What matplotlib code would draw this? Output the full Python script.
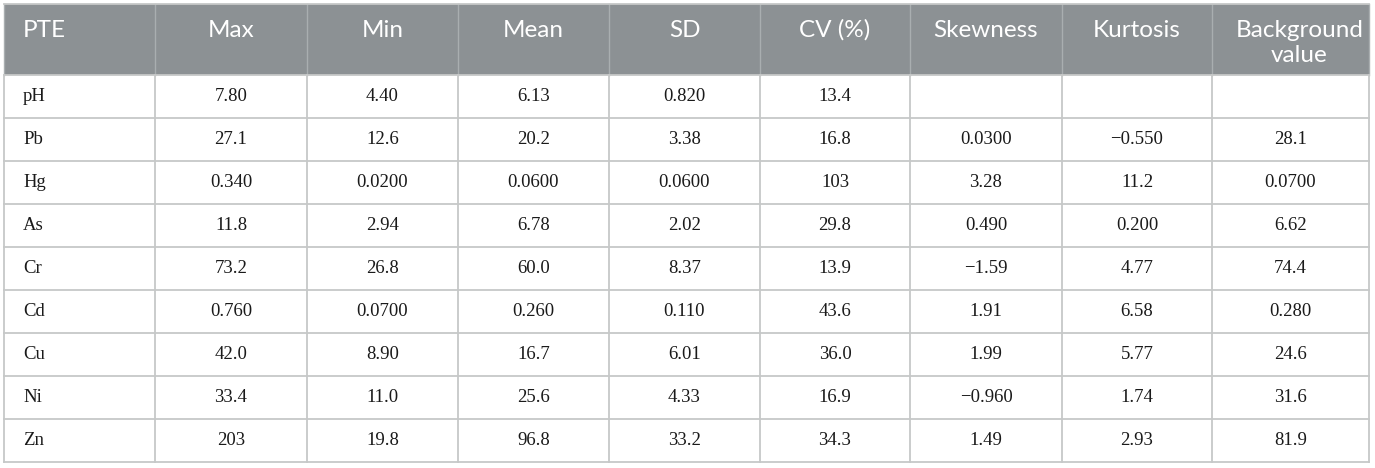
import numpy as np
import matplotlib
matplotlib.use("Agg")
import matplotlib.pyplot as plt
from matplotlib.patches import Rectangle

# table content
headers = ["PTE", "Max", "Min", "Mean", "SD", "CV (%)", "Skewness", "Kurtosis",
           "Background\nvalue"]
elements = ["pH", "Pb", "Hg", "As", "Cr", "Cd", "Cu", "Ni", "Zn"]
max_vals = ["7.80", "27.1", "0.340", "11.8", "73.2", "0.760", "42.0", "33.4", "203"]
min_vals = ["4.40", "12.6", "0.0200", "2.94", "26.8", "0.0700", "8.90", "11.0", "19.8"]
mean_vals = ["6.13", "20.2", "0.0600", "6.78", "60.0", "0.260", "16.7", "25.6", "96.8"]
sd_vals = ["0.820", "3.38", "0.0600", "2.02", "8.37", "0.110", "6.01", "4.33", "33.2"]
cv_vals = ["13.4", "16.8", "103", "29.8", "13.9", "43.6", "36.0", "16.9", "34.3"]
skew_vals = ["", "0.0300", "3.28", "0.490", "\u22121.59", "1.91", "1.99", "\u22120.960", "1.49"]
kurt_vals = ["", "\u22120.550", "11.2", "0.200", "4.77", "6.58", "5.77", "1.74", "2.93"]
bg_vals = ["", "28.1", "0.0700", "6.62", "74.4", "0.280", "24.6", "31.6", "81.9"]

columns = [elements, max_vals, min_vals, mean_vals, sd_vals, cv_vals,
           skew_vals, kurt_vals, bg_vals]

W, H = 1375, 468
col_edges = [4, 155, 307, 458, 609, 760, 910, 1062, 1212, 1369]
top, head_bottom, bottom = 4, 75, 462
row_h = (bottom - head_bottom) / len(elements)

header_color = "#8c9194"
line_color = "#c6c8c8"

fig = plt.figure(figsize=(W / 100, H / 100), dpi=100)
ax = fig.add_axes([0, 0, 1, 1])
ax.set_xlim(0, W)
ax.set_ylim(H, 0)
ax.axis("off")

# header band
ax.add_patch(Rectangle((col_edges[0], top), col_edges[-1] - col_edges[0],
                       head_bottom - top, facecolor=header_color, edgecolor="none"))

# grid lines
for x in col_edges:
    ax.plot([x, x], [top, head_bottom], color="#a9aeb0", lw=1.0)
    ax.plot([x, x], [head_bottom, bottom], color=line_color, lw=1.3)
ax.plot([col_edges[0], col_edges[-1]], [top, top], color=line_color, lw=1.3)
for r in range(len(elements) + 1):
    y = head_bottom + r * row_h
    ax.plot([col_edges[0], col_edges[-1]], [y, y], color=line_color, lw=1.3)

# header text (each line placed on its own baseline)
for c, h in enumerate(headers):
    if c == 0:
        x, ha = col_edges[0] + 19, "left"
    else:
        x, ha = (col_edges[c] + col_edges[c + 1]) / 2 + (9 if c == 8 else 0), "center"
    for k, line in enumerate(h.split("\n")):
        ax.text(x, 37 + 25 * k, line, ha=ha, va="baseline", color="white",
                fontsize=17.5, family="Lato")

# body text
for c, col in enumerate(columns):
    for r, val in enumerate(col):
        yc = head_bottom + (r + 0.5) * row_h
        if c == 0:
            x, ha = col_edges[0] + 19, "left"
        else:
            x, ha = (col_edges[c] + col_edges[c + 1]) / 2, "center"
        ax.text(x, yc, val, ha=ha, va="center", color="#1a1a1a", fontsize=13.5,
                family=["Liberation Serif", "DejaVu Serif"])

fig.savefig("out.png", dpi=100, facecolor="white")
